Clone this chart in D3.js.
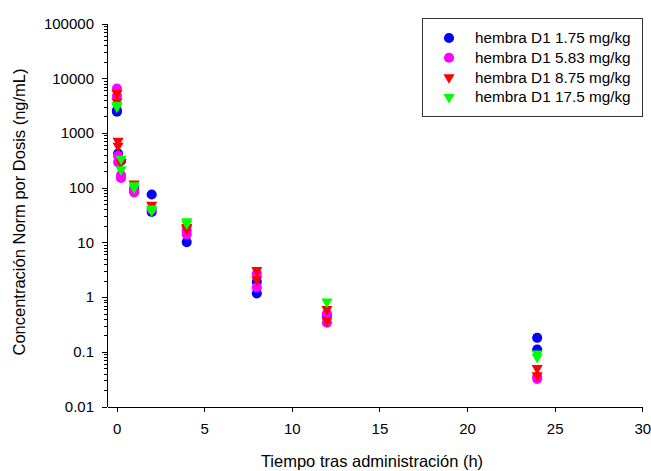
<!DOCTYPE html>
<html>
<head>
<meta charset="utf-8">
<script src="https://cdn.jsdelivr.net/npm/d3@7"></script>
<style>
  body { margin: 0; background: #fff; }
  svg text { font-family: "Liberation Sans", Arial, sans-serif; fill: #000; }
  .axis path, .axis line { stroke: #000; stroke-width: 1; shape-rendering: crispEdges; }
</style>
</head>
<body>
<svg id="chart" width="651" height="471"></svg>
<script>
// sampling times (h)
const times = [0.017, 0.083, 0.25, 1, 2, 4, 8, 12, 24];

// values per time point (ng/mL per dose), one list per time
const dose175 = [[2600, 2450], [420], [310], [95], [75, 36], [10.1], [1.9, 1.17], [0.47], [0.18, 0.11]];
const dose583 = [[6500, 4700], [380, 290], [170, 150], [88, 82], [40], [16.5, 14], [2.7, 1.5], [0.5, 0.34], [0.035, 0.032]];
const dose875 = [[5300, 3700], [710, 580], [290], [118], [48], [19, 17.5], [3.1, 2.1], [0.6, 0.37], [0.05, 0.037]];
const dose175b = [[3200, 3000], [], [335, 215], [110, 100], [41, 38], [24, 22], [], [0.82], [0.092, 0.08]];

const seriesNames = ["hembra D1 1.75 mg/kg", "hembra D1 5.83 mg/kg", "hembra D1 8.75 mg/kg", "hembra D1 17.5 mg/kg"];
const seriesColors = ["#0000ff", "#ff00ff", "#ff0000", "#00ff00"];
const seriesShapes = ["circle", "circle", "triangle", "triangle"];

const xTicks = [0, 5, 10, 15, 20, 25, 30];
const yTicks = [0.01, 0.1, 1, 10, 100, 1000, 10000, 100000];

const svg = d3.select("#chart");

const x = d3.scaleLinear().domain([-0.55, 30]).range([107, 642.3]);
const y = d3.scaleLog().domain([0.01, 100000]).range([406.5, 23.5]);

// x axis
svg.append("g")
    .attr("class", "axis")
    .attr("transform", "translate(0," + y(0.01) + ")")
    .call(d3.axisBottom(x).tickValues(xTicks).tickSize(5).tickSizeOuter(0).tickPadding(12).tickFormat(d3.format("d")))
    .call(g => g.selectAll("text").style("font-size", "15px").attr("font-family", null));

// y axis with minor ticks
const minor = [];
yTicks.slice(0, -1).forEach(t => { for (let k = 2; k < 10; k++) minor.push(t * k); });

svg.append("g")
    .attr("class", "axis")
    .attr("transform", "translate(" + x(-0.55) + ",0)")
    .call(d3.axisLeft(y).tickValues(minor).tickSize(3).tickSizeOuter(0).tickFormat(""));

svg.append("g")
    .attr("class", "axis")
    .attr("transform", "translate(" + x(-0.55) + ",0)")
    .call(d3.axisLeft(y).tickValues(yTicks).tickSize(5).tickSizeOuter(0).tickPadding(8).tickFormat(d => String(d)))
    .call(g => g.selectAll("text").style("font-size", "15px").attr("font-family", null));

// titles
svg.append("text")
    .attr("x", 372)
    .attr("y", 467)
    .attr("text-anchor", "middle")
    .style("font-size", "16.5px")
    .text("Tiempo tras administración (h)");

svg.append("text")
    .attr("transform", "translate(25,212) rotate(-90)")
    .attr("text-anchor", "middle")
    .style("font-size", "16.5px")
    .text("Concentración Norm por Dosis (ng/mL)");

// markers
const symbolFor = shape => shape === "circle"
    ? d3.symbol().type(d3.symbolCircle).size(80)
    : d3.symbol().type(d3.symbolTriangle).size(54);

const allSeries = [dose175, dose583, dose875, dose175b];
allSeries.forEach((series, i) => {
    const pts = [];
    series.forEach((vals, j) => vals.forEach(v => pts.push({t: times[j], v: v})));
    const rot = seriesShapes[i] === "triangle" ? " rotate(180)" : "";
    svg.append("g").selectAll("path")
        .data(pts)
        .join("path")
        .attr("d", symbolFor(seriesShapes[i]))
        .attr("transform", d => "translate(" + x(d.t) + "," + y(d.v) + ")" + rot)
        .attr("fill", seriesColors[i]);
});

// legend
const legend = svg.append("g");
legend.append("rect")
    .attr("x", 422.5).attr("y", 18.5)
    .attr("width", 220).attr("height", 98)
    .attr("fill", "#fff").attr("stroke", "#333").attr("stroke-width", 1);

seriesNames.forEach((name, i) => {
    const ly = 38 + i * 19.7;
    const rot = seriesShapes[i] === "triangle" ? " rotate(180)" : "";
    legend.append("path")
        .attr("d", symbolFor(seriesShapes[i]))
        .attr("transform", "translate(449," + ly + ")" + rot)
        .attr("fill", seriesColors[i]);
    legend.append("text")
        .attr("x", 475)
        .attr("y", ly)
        .attr("dy", "0.35em")
        .style("font-size", "15.3px")
        .text(name);
});
</script>
</body>
</html>
